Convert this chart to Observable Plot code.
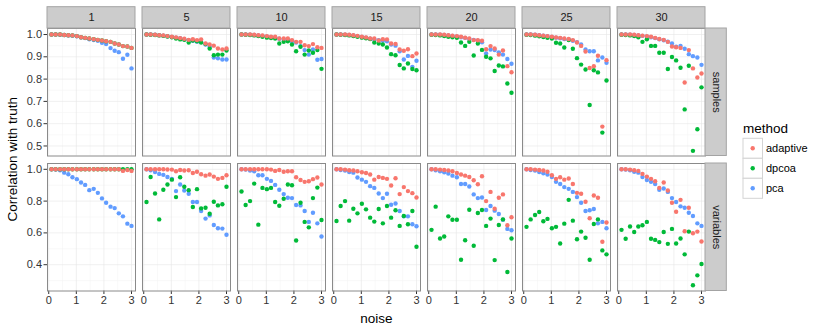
<!DOCTYPE html>
<html><head><meta charset="utf-8">
<script src="https://cdn.jsdelivr.net/npm/d3@7"></script>
<script src="https://cdn.jsdelivr.net/npm/@observablehq/plot@0.6"></script>
<style>
body{margin:0;background:#fff;}
#chart{position:relative;width:830px;height:332px;font-family:"Liberation Sans",Arial,sans-serif;}
#chart svg{position:absolute;left:0;top:0;overflow:visible;max-width:none;}
</style></head><body><div id="chart"></div>
<script>
const sizes = [1, 5, 10, 15, 20, 25, 30];
const noise = [0.10,0.25,0.41,0.56,0.71,0.86,1.02,1.17,1.32,1.47,1.63,1.78,1.93,2.08,2.24,2.39,2.54,2.69,2.85,3.00];
const methods = ["adaptive", "dpcoa", "pca"];
const colors = ["#F8766D", "#00BA38", "#619CFF"];
const rowNames = ["samples", "variables"];
const xTicks = [0, 1, 2, 3];
const xMinor = [0.5, 1.5, 2.5];
const sTicks = [0.5, 0.6, 0.7, 0.8, 0.9, 1.0];
const sMinor = [0.55, 0.65, 0.75, 0.85, 0.95];
const vTicks = [0.4, 0.6, 0.8, 1.0];
const vMinor = [0.3, 0.5, 0.7, 0.9];

// samples row
const sAdaptive = [
 [1.0,1.0,1.0,0.998,0.997,0.996,0.993,0.988,0.985,0.982,0.979,0.976,0.973,0.970,0.967,0.960,0.955,0.948,0.946,0.940],
 [1.0,1.0,0.999,0.997,0.996,0.993,0.990,0.987,0.984,0.981,0.976,0.979,0.975,0.978,0.960,0.955,0.950,0.937,0.933,0.937],
 [1.0,1.0,1.0,0.999,0.997,0.996,0.993,0.990,0.990,0.982,0.982,0.982,0.975,0.967,0.967,0.952,0.948,0.957,0.943,0.940],
 [1.0,1.0,1.0,0.999,0.997,0.994,0.990,0.987,0.982,0.982,0.973,0.979,0.978,0.960,0.958,0.933,0.927,0.934,0.903,0.915],
 [1.0,1.0,1.0,0.999,0.997,0.995,0.993,0.990,0.986,0.982,0.975,0.974,0.972,0.934,0.948,0.937,0.910,0.928,0.858,0.831],
 [1.0,1.0,0.999,0.997,0.995,0.993,0.990,0.987,0.985,0.982,0.980,0.975,0.964,0.949,0.924,0.850,0.858,0.905,0.587,0.885],
 [1.0,1.0,1.0,0.999,0.997,0.995,0.993,0.990,0.985,0.980,0.976,0.967,0.946,0.943,0.940,0.785,0.930,0.848,0.807,0.825]
];
const sDpcoa = [
 [1.0,1.0,1.0,0.998,0.997,0.996,0.993,0.988,0.985,0.982,0.979,0.976,0.973,0.970,0.967,0.960,0.955,0.948,0.946,0.940],
 [1.0,0.999,0.998,0.996,0.994,0.991,0.988,0.982,0.978,0.976,0.964,0.973,0.970,0.964,0.957,0.937,0.907,0.910,0.910,0.928],
 [1.0,0.999,0.998,0.996,0.993,0.990,0.986,0.984,0.982,0.960,0.967,0.970,0.955,0.925,0.945,0.910,0.928,0.918,0.930,0.846],
 [1.0,0.999,0.998,0.996,0.993,0.990,0.986,0.983,0.980,0.964,0.960,0.955,0.942,0.912,0.907,0.863,0.848,0.870,0.845,0.840],
 [0.999,0.998,0.996,0.993,0.990,0.988,0.985,0.964,0.949,0.967,0.906,0.960,0.931,0.900,0.893,0.836,0.861,0.857,0.780,0.739],
 [0.999,0.998,0.995,0.992,0.989,0.985,0.982,0.963,0.960,0.942,0.975,0.936,0.894,0.865,0.843,0.684,0.840,0.830,0.560,0.794],
 [0.999,0.998,0.996,0.993,0.988,0.967,0.979,0.949,0.949,0.918,0.918,0.845,0.899,0.884,0.851,0.664,0.860,0.478,0.575,0.763]
];
const sPca = [
 [1.0,1.0,0.999,0.998,0.996,0.995,0.992,0.987,0.984,0.979,0.975,0.972,0.963,0.957,0.939,0.927,0.921,0.891,0.909,0.848],
 [1.0,1.0,0.999,0.997,0.995,0.992,0.989,0.986,0.983,0.979,0.974,0.972,0.968,0.966,0.955,0.945,0.897,0.893,0.888,0.888],
 [1.0,1.0,0.999,0.998,0.996,0.994,0.991,0.988,0.986,0.981,0.978,0.977,0.970,0.964,0.948,0.930,0.910,0.933,0.887,0.890],
 [1.0,1.0,0.999,0.998,0.996,0.993,0.989,0.986,0.981,0.979,0.975,0.972,0.970,0.955,0.950,0.925,0.888,0.904,0.855,0.882],
 [1.0,1.0,0.999,0.998,0.996,0.994,0.991,0.988,0.985,0.980,0.976,0.972,0.965,0.915,0.933,0.930,0.920,0.910,0.890,0.869],
 [1.0,1.0,0.999,0.997,0.995,0.992,0.989,0.986,0.983,0.980,0.977,0.972,0.966,0.955,0.933,0.925,0.925,0.884,0.897,0.873],
 [1.0,1.0,0.999,0.998,0.996,0.994,0.991,0.988,0.984,0.979,0.974,0.968,0.960,0.945,0.949,0.936,0.912,0.903,0.897,0.864]
];
// variables row
const vAdaptive = [
 [1,1,1,1,1,1,1,1,1,1,1,1,1,1,1,1,1,0.990,0.996,0.990],
 [1.0,1.0,1.0,1.0,1.0,0.999,0.998,0.988,0.996,0.992,0.994,0.977,0.985,0.969,0.960,0.967,0.954,0.940,0.946,0.963],
 [1.0,1.0,1.0,1.0,1.0,1.0,1.0,0.998,0.990,0.996,0.985,0.988,0.988,0.950,0.933,0.921,0.925,0.938,0.948,0.904],
 [1.0,1.0,0.998,0.994,0.992,0.988,0.981,0.977,0.967,0.935,0.952,0.946,0.940,0.898,0.944,0.844,0.888,0.863,0.850,0.823],
 [1.0,1.0,0.998,0.996,0.992,0.988,0.977,0.967,0.960,0.952,0.931,0.906,0.956,0.800,0.858,0.752,0.821,0.842,0.648,0.698],
 [1.0,1.0,0.998,0.996,0.992,0.985,0.963,0.940,0.950,0.935,0.942,0.908,0.852,0.846,0.796,0.692,0.835,0.821,0.544,0.665],
 [1.0,1.0,0.998,0.994,0.990,0.971,0.954,0.940,0.925,0.883,0.917,0.867,0.790,0.733,0.808,0.610,0.758,0.598,0.608,0.546]
];
const vDpcoa = [
 [1,1,1,1,1,1,1,1,1,1,1,1,1,1,1,1,1,1,1,1],
 [0.794,0.952,0.848,0.685,0.871,0.904,0.935,0.825,0.950,0.890,0.869,0.763,0.875,0.754,0.758,0.720,0.796,0.773,0.780,0.890],
 [0.860,0.775,0.800,0.910,0.652,0.883,0.875,0.883,0.794,0.771,0.815,0.904,0.900,0.552,0.790,0.669,0.635,0.819,0.885,0.681],
 [0.675,0.769,0.800,0.677,0.752,0.723,0.783,0.748,0.696,0.671,0.750,0.660,0.769,0.696,0.742,0.644,0.706,0.654,0.738,0.513],
 [0.619,0.765,0.565,0.577,0.704,0.683,0.683,0.431,0.554,0.746,0.519,0.725,0.744,0.644,0.690,0.429,0.650,0.685,0.354,0.565],
 [0.638,0.685,0.713,0.731,0.673,0.688,0.629,0.638,0.533,0.658,0.808,0.677,0.560,0.608,0.569,0.431,0.656,0.685,0.490,0.465],
 [0.619,0.563,0.640,0.606,0.640,0.648,0.669,0.563,0.556,0.542,0.606,0.531,0.625,0.533,0.565,0.465,0.608,0.271,0.333,0.404]
];
const vPca = [
 [1.0,0.998,0.994,0.979,0.969,0.950,0.938,0.917,0.902,0.869,0.877,0.852,0.817,0.790,0.765,0.756,0.723,0.704,0.658,0.644],
 [1.0,0.994,0.983,0.971,0.965,0.952,0.940,0.863,0.904,0.867,0.846,0.794,0.794,0.738,0.690,0.710,0.650,0.629,0.627,0.588],
 [1.0,0.998,0.992,0.988,0.963,0.963,0.940,0.927,0.902,0.871,0.844,0.821,0.819,0.775,0.773,0.738,0.669,0.727,0.660,0.577],
 [1.0,0.996,0.992,0.983,0.979,0.948,0.935,0.921,0.894,0.883,0.848,0.819,0.846,0.777,0.785,0.738,0.704,0.704,0.654,0.642],
 [1.0,0.994,0.988,0.981,0.973,0.960,0.950,0.908,0.908,0.892,0.842,0.819,0.823,0.744,0.769,0.740,0.719,0.683,0.625,0.617],
 [1.0,0.996,0.992,0.983,0.975,0.967,0.952,0.921,0.908,0.888,0.877,0.858,0.825,0.790,0.738,0.742,0.750,0.660,0.669,0.629],
 [1.0,0.998,0.994,0.985,0.979,0.952,0.933,0.921,0.908,0.871,0.879,0.858,0.819,0.794,0.767,0.758,0.727,0.706,0.660,0.644]
];

function tidy(byMethod) {
  const out = [];
  // draw order: pca, dpcoa, adaptive (adaptive on top)
  [["pca", byMethod.pca], ["dpcoa", byMethod.dpcoa], ["adaptive", byMethod.adaptive]].forEach(([m, arr]) => {
    sizes.forEach((s, i) => noise.forEach((n, j) => out.push({size: s, noise: n, method: m, value: arr[i][j]})));
  });
  return out;
}
const sData = tidy({adaptive: sAdaptive, dpcoa: sDpcoa, pca: sPca});
const vData = tidy({adaptive: vAdaptive, dpcoa: vDpcoa, pca: vPca});

const W = 830, H = 332;
const left = 47.3, right = 705.3;
const panelH = 127.5, stripH = 21.3;
const fxOpt = {domain: sizes, paddingInner: 7 / 95, paddingOuter: 0, axis: null};
const xDomain = [-0.045, 3.145];
const font = '"Liberation Sans", Arial, sans-serif';
const bw = (right - left) / (7 - 7 / 95) * (1 - 7 / 95);

function row({data, top, yDomain, ticks, minor, name, showX, showStrip}) {
  const marks = [
    Plot.ruleX(xMinor, {stroke: "#f5f5f5", strokeWidth: 0.6}),
    Plot.ruleY(minor, {stroke: "#f5f5f5", strokeWidth: 0.6}),
    Plot.ruleX(xTicks, {stroke: "#e6e6e6", strokeWidth: 0.6}),
    Plot.ruleY(ticks, {stroke: "#e6e6e6", strokeWidth: 0.6}),
    Plot.dot(data, {fx: "size", x: "noise", y: "value", fill: "method", r: 2.2}),
    Plot.frame({stroke: "#8a8a8a", strokeWidth: 1}),
    Plot.rect([30], {fx: d => d, insetLeft: bw, insetRight: -stripH, fill: "#cccccc", stroke: "#a3a3a3"}),
    Plot.text([name], {fx: () => 30, text: d => d, frameAnchor: "right", dx: stripH / 2, rotate: 90,
      textAnchor: "middle", lineAnchor: "middle", fontSize: 11, fill: "#1a1a1a"})
  ];
  if (showStrip) {
    marks.push(
      Plot.rect(sizes, {fx: d => d, insetTop: -stripH, insetBottom: panelH, fill: "#cccccc", stroke: "#a3a3a3"}),
      Plot.text(sizes, {fx: d => d, text: d => String(d), frameAnchor: "top", dy: -stripH / 2,
        lineAnchor: "middle", fontSize: 11, fill: "#1a1a1a"})
    );
  }
  return Plot.plot({
    width: W, height: H,
    marginLeft: left, marginRight: W - right,
    marginTop: top, marginBottom: H - top - panelH,
    style: {fontFamily: font, fontSize: "11px", color: "#333", background: "transparent", overflow: "visible"},
    fx: fxOpt,
    x: showX ? {domain: xDomain, ticks: xTicks, tickFormat: d => String(d), tickSize: 3.5, tickPadding: 2, label: null}
             : {domain: xDomain, axis: null},
    y: {domain: yDomain, ticks, tickFormat: ".1f", tickSize: 3.5, tickPadding: 2, label: null},
    color: {domain: methods, range: colors},
    marks
  });
}

const chart = document.getElementById("chart");
const p1 = row({data: sData, top: 28, yDomain: [0.455, 1.027], ticks: sTicks, minor: sMinor, name: rowNames[0], showX: false, showStrip: true});
const p2 = row({data: vData, top: 163, yDomain: [0.2345, 1.0365], ticks: vTicks, minor: vMinor, name: rowNames[1], showX: true, showStrip: false});
chart.appendChild(p1);
chart.appendChild(p2);

// titles and legend
const svg = d3.select(chart).append("svg").attr("width", W).attr("height", H)
  .style("font-family", font);
svg.append("text").attr("transform", `translate(12,${(28 + 163 + panelH) / 2}) rotate(-90)`)
  .attr("text-anchor", "middle").attr("dominant-baseline", "central")
  .style("font-size", "13.5px").attr("fill", "#000").text("Correlation with truth");
svg.append("text").attr("x", (left + right) / 2).attr("y", 318)
  .attr("text-anchor", "middle").attr("dominant-baseline", "central")
  .style("font-size", "13.5px").attr("fill", "#000").text("noise");
const color = p1.scale("color");
svg.append("text").attr("x", 743).attr("y", 128).attr("dominant-baseline", "central")
  .style("font-size", "13.5px").attr("fill", "#000").text("method");
methods.forEach((m, i) => {
  const y0 = 138.3 + i * 20;
  svg.append("rect").attr("x", 743).attr("y", y0).attr("width", 19.5).attr("height", 20)
    .attr("fill", "#fff").attr("stroke", "#d4d4d4");
  svg.append("circle").attr("cx", 752.7).attr("cy", y0 + 10).attr("r", 2.2).attr("fill", color.apply(m));
  svg.append("text").attr("x", 766).attr("y", y0 + 10).attr("dominant-baseline", "central")
    .style("font-size", "11px").attr("fill", "#000").text(m);
});
</script></body></html>
